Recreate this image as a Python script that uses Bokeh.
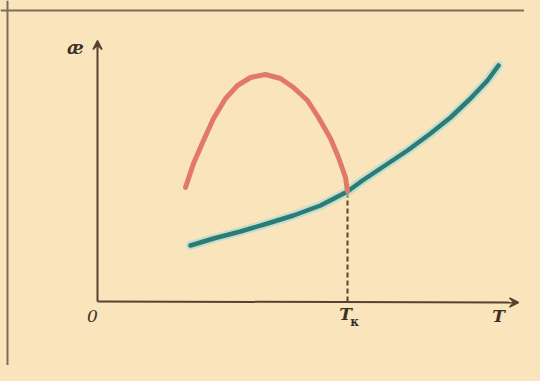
from bokeh.plotting import figure
from bokeh.models import Arrow, VeeHead, Span
from bokeh.core.properties import value
from bokeh.embed import file_html
from bokeh.resources import INLINE

# Data (arbitrary units: T along x, kappa along y)
red_T = [8.8, 9.6, 10.6, 11.6, 12.8, 14.0, 15.3, 16.8, 18.3, 19.6, 21.0, 22.1, 23.3, 24.1, 24.8, 25.0]
red_k = [11.4, 13.8, 16.1, 18.3, 20.3, 21.6, 22.4, 22.7, 22.3, 21.4, 20.1, 18.4, 16.3, 14.4, 12.4, 11.0]
teal_T = [9.3, 11.6, 14.3, 17.0, 19.6, 22.3, 25.0, 26.5, 28.6, 31.0, 33.3, 35.3, 37.3, 39.0, 40.1]
teal_k = [5.6, 6.3, 7.0, 7.8, 8.6, 9.6, 11.0, 12.1, 13.5, 15.1, 16.8, 18.4, 20.3, 22.1, 23.6]
T_crit = 25.0
k_crit = 11.0
x_axis_end = 42.1
y_axis_end = 26.1

BG = "#f9e4bc"
INK = "#54432f"
TXT = "#3a3026"

p = figure(width=524, height=365, output_backend="svg", toolbar_location=None,
           x_range=(-9.7, 42.7), y_range=(-6.4, 30.1), min_border=0)
p.axis.visible = False
p.grid.visible = False
p.outline_line_color = None
p.background_fill_color = BG
p.border_fill_color = BG

# frame (left and top edges of the printed box)
p.add_layout(Span(location=-9.0, dimension="height", line_color="#7d6c57", line_width=2))
p.add_layout(Span(location=29.1, dimension="width", line_color="#7d6c57", line_width=2))

# axes
p.add_layout(Arrow(end=VeeHead(size=9, line_color=INK, fill_color=INK, line_width=1.5),
                   x_start=0, y_start=0, x_end=x_axis_end, y_end=-0.1,
                   line_color=INK, line_width=2))
p.add_layout(Arrow(end=VeeHead(size=9, line_color=INK, fill_color=INK, line_width=1.5),
                   x_start=0, y_start=0, x_end=0, y_end=y_axis_end,
                   line_color=INK, line_width=2))

# dashed drop line at T_k
p.segment(x0=[T_crit], y0=[0], x1=[T_crit], y1=[k_crit], line_color=INK,
          line_width=2, line_dash="5 3")

# curves
p.line(teal_T, teal_k, line_color="#a8ddd6", line_width=9, line_alpha=0.7,
       line_cap="round", line_join="round")
p.line(teal_T, teal_k, line_color="#2e7b76", line_width=4.5, line_cap="round", line_join="round")
p.line(red_T, red_k, line_color="#e0796c", line_width=5, line_cap="round", line_join="round")

# labels
font = value("DejaVu Serif")
p.text(x=[-2.2], y=[25.4], text=["æ"], text_font=font, text_font_style="bold italic",
       text_font_size="18px", text_color=TXT, text_align="center", text_baseline="middle")
p.text(x=[-0.5], y=[-1.4], text=["0"], text_font=font, text_font_style="italic",
       text_font_size="17px", text_color=TXT, text_align="center", text_baseline="middle")
p.text(x=[24.8], y=[-1.2], text=["T"], text_font=font, text_font_style="bold italic",
       text_font_size="17px", text_color=TXT, text_align="center", text_baseline="middle")
p.text(x=[25.7], y=[-2.0], text=["к"], text_font=font, text_font_style="bold",
       text_font_size="12px", text_color=TXT, text_align="center", text_baseline="middle")
p.text(x=[40.1], y=[-1.4], text=["T"], text_font=font, text_font_style="bold italic",
       text_font_size="17px", text_color=TXT, text_align="center", text_baseline="middle")

html = file_html(p, INLINE)
html = html.replace("<head>", "<head><style>html,body{background:%s;}</style>" % BG, 1)
open("out.html", "w").write(html)
